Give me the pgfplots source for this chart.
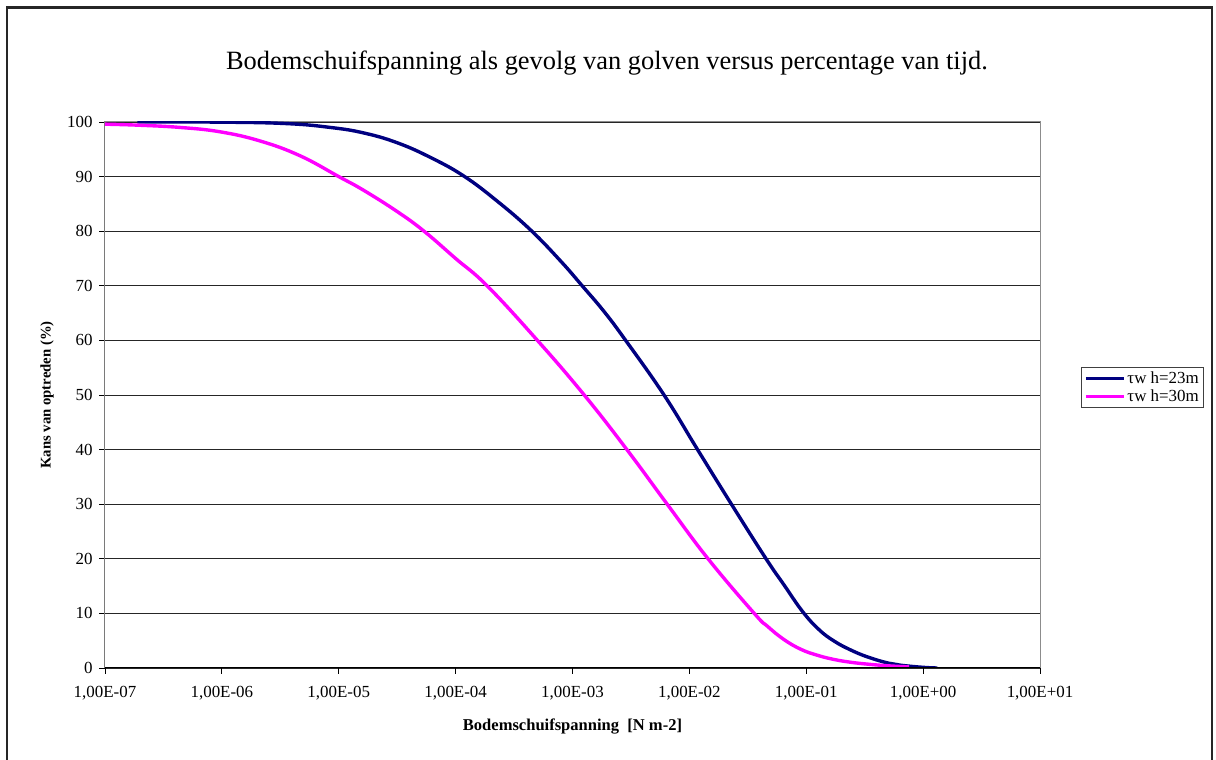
\documentclass[border=0pt]{standalone}
\usepackage{fontspec}
\setmainfont{Liberation Serif}
\usepackage{pgfplots}
\pgfplotsset{compat=1.18}
\definecolor{navyc}{RGB}{0,0,128}
\definecolor{magc}{RGB}{255,0,255}
\begin{document}
\begin{tikzpicture}[x=1bp,y=1bp]
\useasboundingbox (0,0) rectangle (1216,760);
\draw[line width=2.5bp, black!85] (7,0) -- (7,752.5) -- (1212,752.5) -- (1212,0);
\node[font=\fontsize{26.5}{30}\selectfont] at (607,697) {Bodemschuifspanning als gevolg van golven versus percentage van tijd.};
\begin{axis}[
  at={(105bp,92bp)}, anchor=south west, scale only axis,
  width=935bp, height=546bp,
  xmode=log, xmin=1e-7, xmax=10, ymin=0, ymax=100,
  xtick={1e-7,1e-6,1e-5,1e-4,1e-3,1e-2,1e-1,1,10},
  xticklabels={{1,00E-07},{1,00E-06},{1,00E-05},{1,00E-04},{1,00E-03},{1,00E-02},{1,00E-01},{1,00E+00},{1,00E+01}},
  ytick={0,10,...,100},
  xminorticks=false,
  /pgf/number format/assume math mode=true,
  tick align=outside, major tick length=6bp,
  xtick pos=bottom, ytick pos=left,
  tick style={black, line width=0.8bp},
  ticklabel style={font=\fontsize{17}{19}\selectfont},
  xticklabel style={yshift=-9bp},
  yticklabel style={xshift=-3bp},
  axis line style={draw=black!45, line width=1bp},
  ymajorgrids, grid style={black!85, line width=0.8bp},
  xlabel={\bfseries Bodemschuifspanning\ \ [N m-2]},
  ylabel={\bfseries Kans van optreden (\%)},
  xlabel style={font=\fontsize{16.6}{18}\selectfont, at={(axis description cs:0.5,-0.108)}, anchor=center},
  ylabel style={font=\fontsize{14.8}{17}\selectfont, at={(axis description cs:-0.062,0.5)}, anchor=center},
  legend style={at={(axis description cs:1.0439,0.551)}, anchor=north west,
    draw=black!75, line width=1bp, font=\fontsize{17}{19}\selectfont,
    inner sep=2.5bp, row sep=0.5bp},
  legend cell align=left,
  legend image code/.code={\draw[#1, line width=3.4bp] (0bp,0bp) -- (38bp,0bp);},
]
\addplot[navyc, line width=3.4bp, smooth, tension=0.7] coordinates {
(1.89e-7,100) (1e-6,99.97) (3.63e-6,99.7) (8.47e-6,99.0) (1.63e-5,98.0)
(3.16e-5,96.2) (6.10e-5,93.5) (1.175e-4,90.1) (2.27e-4,85.5) (4.39e-4,80.2)
(7.94e-4,74.5) (1.21e-3,70) (1.86e-3,65.3) (2.85e-3,60)
(6.07e-3,50) (1.175e-2,40) (2.29e-2,30) (4.53e-2,20) (6.46e-2,15.2)
(9.33e-2,10.3) (0.129,7.0) (0.174,4.9) (0.240,3.3) (0.337,2.0) (0.501,0.9)
(0.646,0.5) (1.0,0.12) (1.32,0)
};
\addlegendentry{τw h=23m}
\addplot[magc, line width=3.4bp, smooth, tension=0.7] coordinates {
(1e-7,99.6) (2.0e-7,99.4) (4.40e-7,99.0) (9.66e-7,98.2) (2.14e-6,96.5)
(4.68e-6,93.8) (1e-5,90.0) (1.63e-5,87.5) (3.16e-5,83.6) (5.37e-5,80)
(1e-4,75.0) (1.86e-4,70) (5.01e-4,60) (1.26e-3,50)
(2.92e-3,40) (6.46e-3,30) (1.445e-2,20) (3.59e-2,10) (4.68e-2,7.6)
(6.46e-2,5.2) (9.04e-2,3.4) (0.126,2.3) (0.174,1.55) (0.240,1.05)
(0.337,0.7) (0.501,0.4) (0.759,0.2)
};
\addlegendentry{τw h=30m}
\draw[black, line width=1bp] (rel axis cs:0,1) -- (rel axis cs:0,0) -- (rel axis cs:1,0);
\end{axis}
\end{tikzpicture}
\end{document}
